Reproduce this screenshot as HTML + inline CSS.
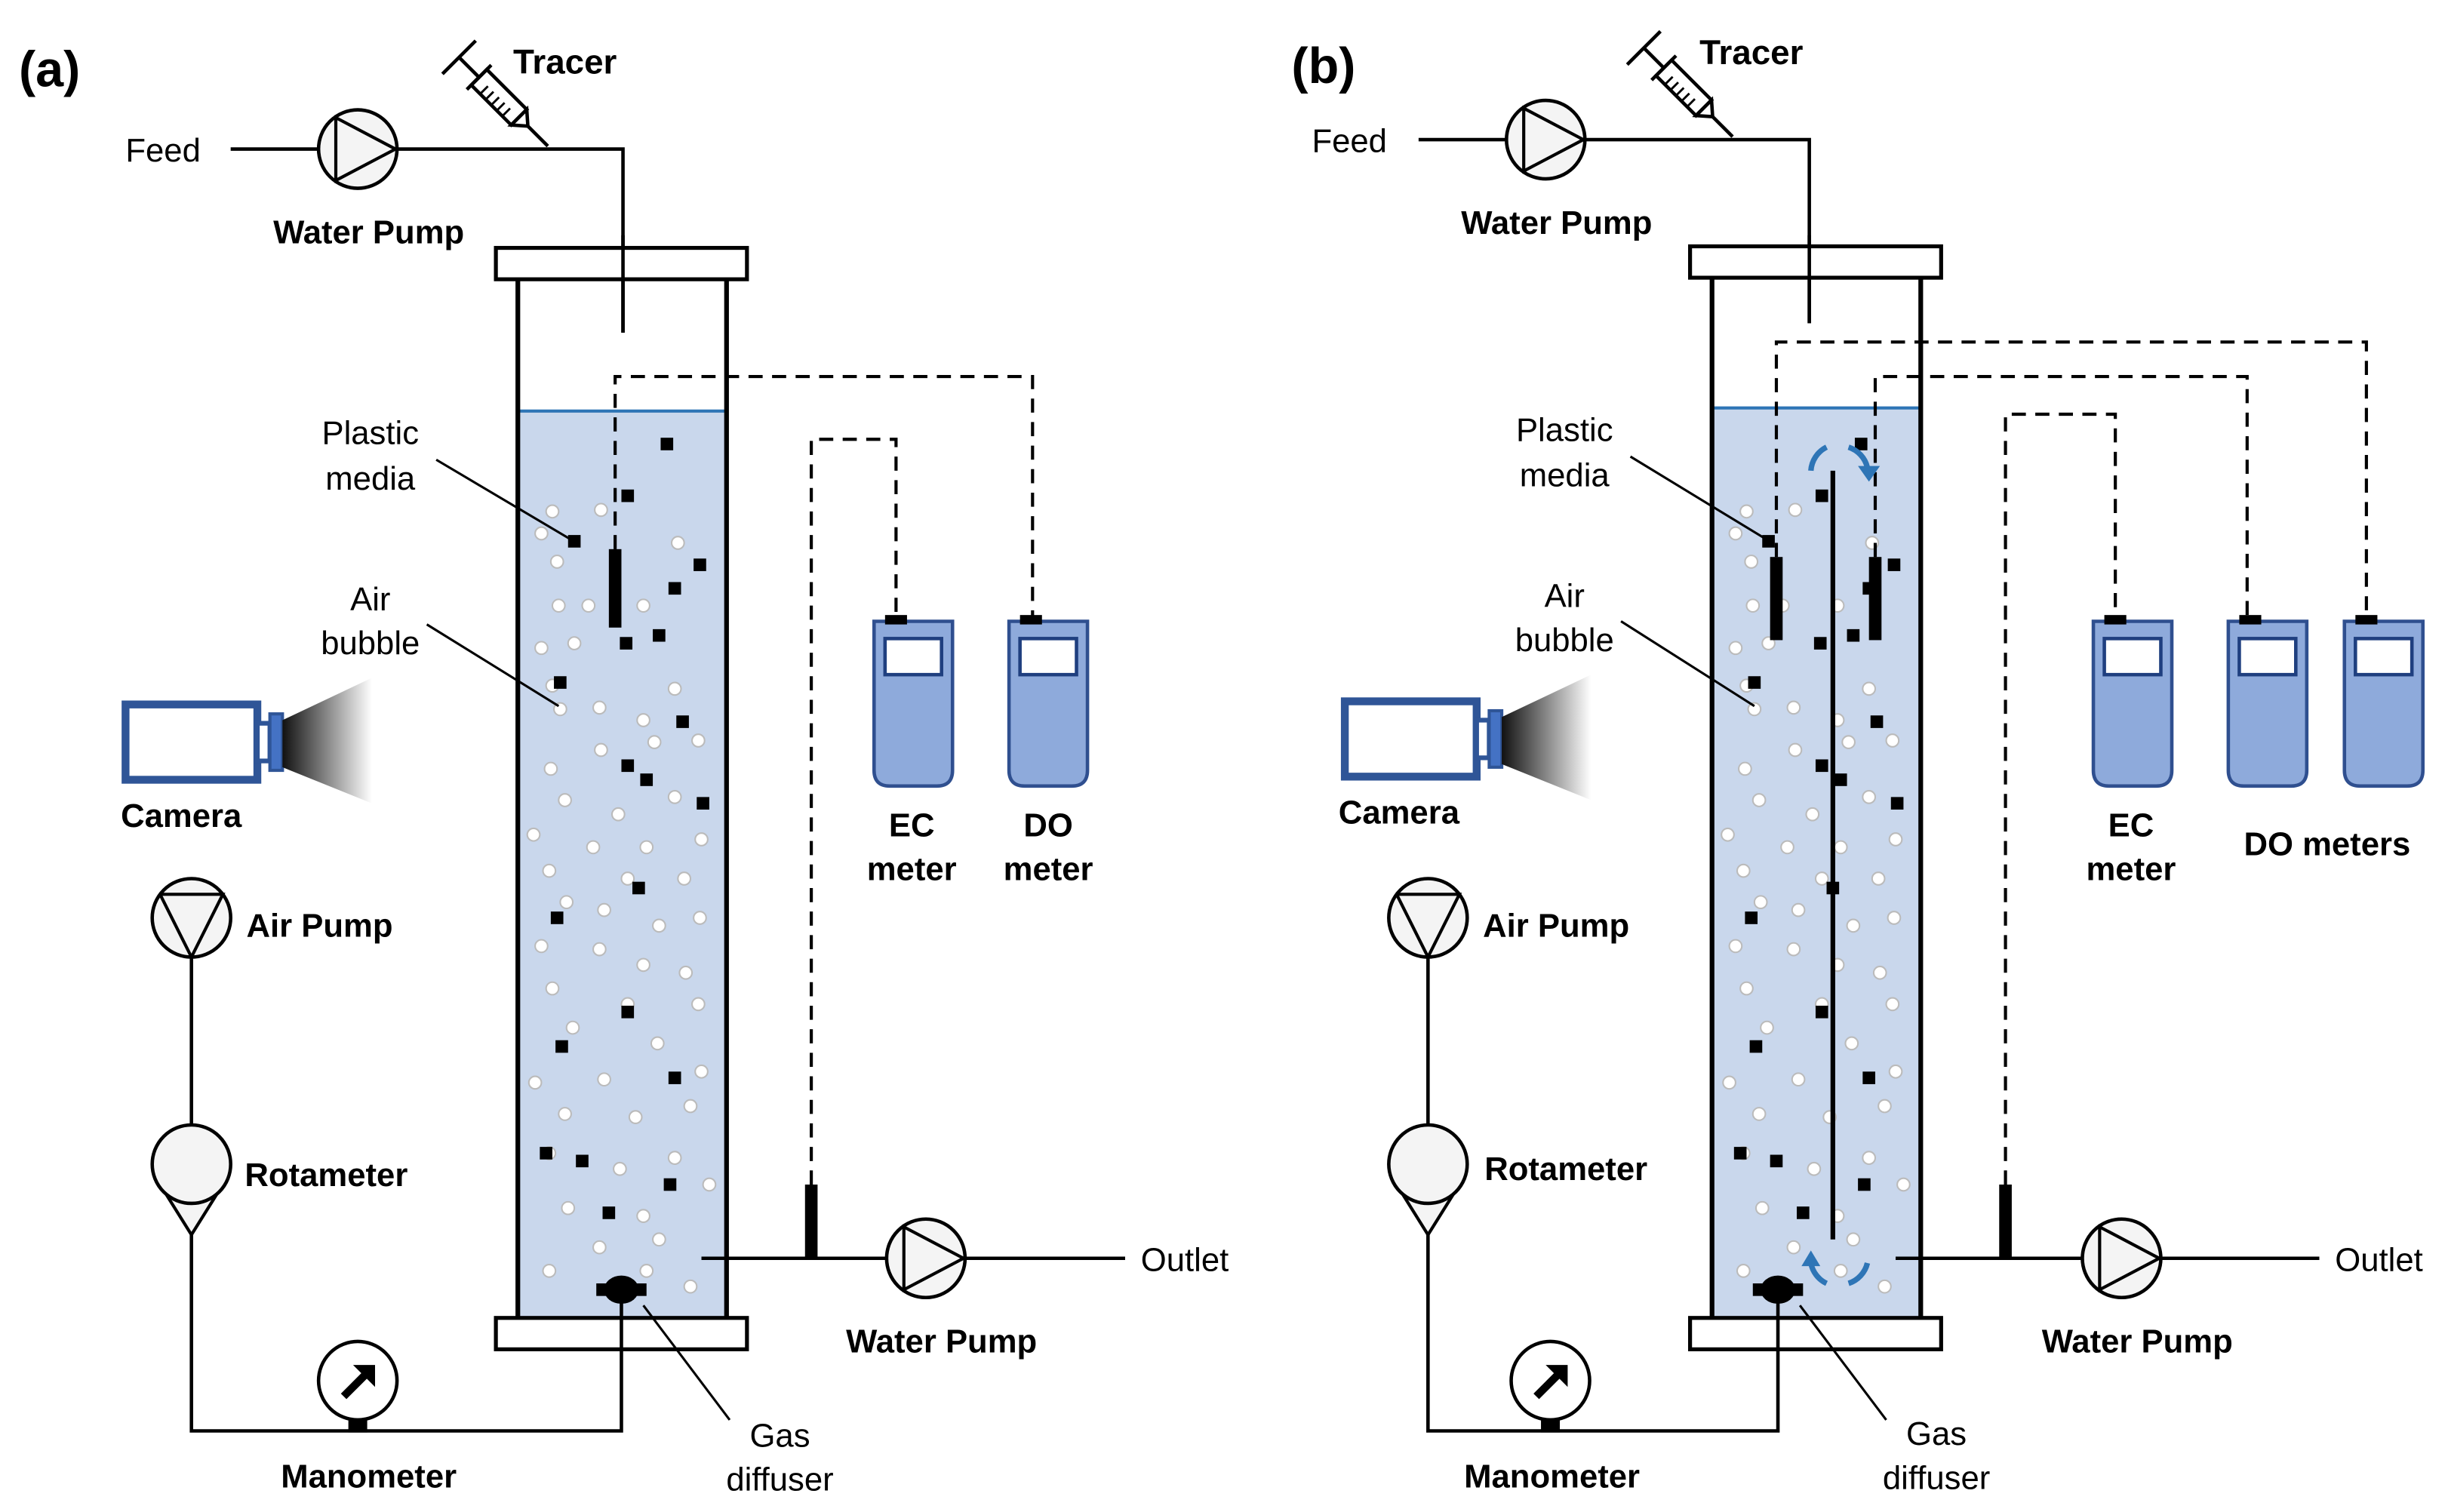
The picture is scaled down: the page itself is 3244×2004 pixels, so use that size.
<!DOCTYPE html>
<html><head><meta charset="utf-8"><style>
html,body{margin:0;padding:0;background:#fff}
svg{display:block}
text{font-family:"Liberation Sans",Arial,sans-serif}
.b{font-weight:bold}
</style></head><body>
<svg width="3244" height="2004" viewBox="0 0 1560 963.7" preserveAspectRatio="none" xmlns="http://www.w3.org/2000/svg">
<defs>
<linearGradient id="cone" x1="0" y1="0" x2="1" y2="0"><stop offset="0" stop-color="#111"/><stop offset="1" stop-color="#fff"/></linearGradient>
<g id="bub">
<g fill="#fff" stroke="#bbb" stroke-width="1">
<circle cx="352" cy="326" r="4"/><circle cx="383" cy="325" r="4"/><circle cx="345" cy="340" r="4"/><circle cx="355" cy="358" r="4"/><circle cx="432" cy="346" r="4"/><circle cx="356" cy="386" r="4"/><circle cx="375" cy="386" r="4"/><circle cx="410" cy="386" r="4"/><circle cx="345" cy="413" r="4"/><circle cx="366" cy="410" r="4"/><circle cx="352" cy="437" r="4"/><circle cx="382" cy="451" r="4"/><circle cx="430" cy="439" r="4"/><circle cx="410" cy="459" r="4"/><circle cx="357" cy="452" r="4"/><circle cx="383" cy="478" r="4"/><circle cx="351" cy="490" r="4"/><circle cx="417" cy="473" r="4"/><circle cx="445" cy="472" r="4"/><circle cx="360" cy="510" r="4"/><circle cx="394" cy="519" r="4"/><circle cx="430" cy="508" r="4"/><circle cx="340" cy="532" r="4"/><circle cx="378" cy="540" r="4"/><circle cx="412" cy="540" r="4"/><circle cx="447" cy="535" r="4"/><circle cx="350" cy="555" r="4"/><circle cx="400" cy="560" r="4"/><circle cx="436" cy="560" r="4"/><circle cx="361" cy="575" r="4"/><circle cx="385" cy="580" r="4"/><circle cx="420" cy="590" r="4"/><circle cx="446" cy="585" r="4"/><circle cx="345" cy="603" r="4"/><circle cx="382" cy="605" r="4"/><circle cx="410" cy="615" r="4"/><circle cx="437" cy="620" r="4"/><circle cx="352" cy="630" r="4"/><circle cx="400" cy="640" r="4"/><circle cx="445" cy="640" r="4"/><circle cx="365" cy="655" r="4"/><circle cx="419" cy="665" r="4"/><circle cx="341" cy="690" r="4"/><circle cx="385" cy="688" r="4"/><circle cx="447" cy="683" r="4"/><circle cx="360" cy="710" r="4"/><circle cx="405" cy="712" r="4"/><circle cx="440" cy="705" r="4"/><circle cx="350" cy="735" r="4"/><circle cx="395" cy="745" r="4"/><circle cx="430" cy="738" r="4"/><circle cx="362" cy="770" r="4"/><circle cx="410" cy="775" r="4"/><circle cx="452" cy="755" r="4"/><circle cx="382" cy="795" r="4"/><circle cx="420" cy="790" r="4"/><circle cx="350" cy="810" r="4"/><circle cx="412" cy="810" r="4"/><circle cx="440" cy="820" r="4"/>
</g>
<g fill="#000">
<rect x="421" y="279" width="8" height="8"/><rect x="396" y="312" width="8" height="8"/><rect x="362" y="341" width="8" height="8"/><rect x="442" y="356" width="8" height="8"/><rect x="426" y="371" width="8" height="8"/><rect x="395" y="406" width="8" height="8"/><rect x="416" y="401" width="8" height="8"/><rect x="353" y="431" width="8" height="8"/><rect x="431" y="456" width="8" height="8"/><rect x="396" y="484" width="8" height="8"/><rect x="444" y="508" width="8" height="8"/><rect x="408" y="493" width="8" height="8"/><rect x="351" y="581" width="8" height="8"/><rect x="403" y="562" width="8" height="8"/><rect x="396" y="641" width="8" height="8"/><rect x="354" y="663" width="8" height="8"/><rect x="426" y="683" width="8" height="8"/><rect x="344" y="731" width="8" height="8"/><rect x="367" y="736" width="8" height="8"/><rect x="423" y="751" width="8" height="8"/><rect x="384" y="769" width="8" height="8"/>
</g>
</g>
<g id="syr" stroke="#000" stroke-width="2.2" fill="#fff">
<line x1="24" y1="0" x2="44" y2="0"/>
<rect x="-18" y="-7" width="36" height="14"/>
<polygon points="18,-7 26,0 18,7"/>
<line x1="-36" y1="0" x2="-18" y2="0"/>
<line x1="-36" y1="-15" x2="-36" y2="15"/>
<line x1="-18" y1="-11" x2="-18" y2="11"/>
<g stroke-width="1.4"><line x1="-10" y1="0" x2="-10" y2="6"/><line x1="-5" y1="0" x2="-5" y2="6"/><line x1="0" y1="0" x2="0" y2="6"/><line x1="5" y1="0" x2="5" y2="6"/><line x1="10" y1="0" x2="10" y2="6"/></g>
</g>
<g id="pumpR"><circle r="25" fill="#f4f4f4" stroke="#000" stroke-width="2.2"/><polygon points="-14,-20 24,0 -14,20" fill="none" stroke="#000" stroke-width="2"/></g>
<g id="meter">
<path d="M0,0 H50 V95 Q50,105 40,105 H10 Q0,105 0,95 Z" fill="#8eaadb" stroke="#2f4f8f" stroke-width="2.2"/>
<rect x="7" y="11" width="36" height="23" fill="#fff" stroke="#1f3f7f" stroke-width="2.2"/>
<rect x="7" y="-4" width="14" height="6" fill="#000"/>
</g>
<g id="camera">
<rect x="0" y="0" width="84" height="48" fill="#fff" stroke="#2f5597" stroke-width="5"/>
<rect x="84" y="12" width="8" height="24" fill="#fff" stroke="#2f5597" stroke-width="3"/>
<rect x="92" y="6" width="8" height="36" fill="#4472c4" stroke="#2f5597" stroke-width="2"/>
<polygon points="100,10 157,-17 157,63 100,40" fill="url(#cone)"/>
</g>
<g id="airside">
<circle cx="0" cy="0" r="25" fill="#f4f4f4" stroke="#000" stroke-width="2.2"/>
<polyline points="-20,-15 20,-15 0,25 -20,-15" fill="none" stroke="#000" stroke-width="2"/>
<line x1="0" y1="25" x2="0" y2="132" stroke="#000" stroke-width="2.2"/>
<polygon points="-20,170 20,170 0,202" fill="#f4f4f4" stroke="#000" stroke-width="2"/>
<circle cx="0" cy="157" r="25" fill="#f4f4f4" stroke="#000" stroke-width="2.2"/>
</g>
<g id="mano">
<circle r="25" fill="#fff" stroke="#000" stroke-width="2.2"/>
<path d="M-9,10 L6,-5" stroke="#000" stroke-width="5"/>
<polygon points="-3,-10 11,-10 11,4" fill="#000"/>
<rect x="-6" y="24" width="12" height="9" fill="#000"/>
</g>
</defs>

<!-- ============ PANEL A ============ -->
<text x="12" y="55" font-size="32" class="b">(a)</text>
<use href="#syr" transform="translate(318,62) rotate(45)"/>
<text x="327" y="47" font-size="22" class="b">Tracer</text>
<text x="80" y="103" font-size="21">Feed</text>
<line x1="147" y1="95" x2="203" y2="95" stroke="#000" stroke-width="2.2"/>
<use href="#pumpR" x="228" y="95"/>
<polyline points="253,95 397,95 397,212" fill="none" stroke="#000" stroke-width="2.2"/>
<text x="235" y="155" font-size="21" class="b" text-anchor="middle">Water Pump</text>
<!-- column -->
<rect x="331" y="262" width="131" height="578" fill="#c9d7ec"/>
<line x1="331" y1="262" x2="462" y2="262" stroke="#2e75b6" stroke-width="2"/>
<use href="#bub"/>
<line x1="330" y1="178" x2="330" y2="840" stroke="#000" stroke-width="3"/>
<line x1="463" y1="178" x2="463" y2="840" stroke="#000" stroke-width="3"/>
<rect x="316" y="158" width="160" height="20" fill="#fff" stroke="#000" stroke-width="2.5"/>
<line x1="397" y1="150" x2="397" y2="212" stroke="#000" stroke-width="2.2"/>
<rect x="316" y="840" width="160" height="20" fill="#fff" stroke="#000" stroke-width="2.5"/>
<!-- probes -->
<g fill="none" stroke="#000" stroke-width="2" stroke-dasharray="9,6">
<polyline points="392,350 392,240 658,240 658,393"/>
<polyline points="517,755 517,280 571,280 571,393"/>
</g>
<rect x="388" y="350" width="8" height="50" fill="#000"/>
<rect x="513" y="755" width="8" height="47" fill="#000"/>
<use href="#meter" x="557" y="396"/>
<use href="#meter" x="643" y="396"/>
<text x="581" y="533" font-size="21" class="b" text-anchor="middle">EC</text>
<text x="581" y="561" font-size="21" class="b" text-anchor="middle">meter</text>
<text x="668" y="533" font-size="21" class="b" text-anchor="middle">DO</text>
<text x="668" y="561" font-size="21" class="b" text-anchor="middle">meter</text>
<line x1="447" y1="802" x2="565" y2="802" stroke="#000" stroke-width="2.2"/>
<use href="#pumpR" x="590" y="802"/>
<line x1="615" y1="802" x2="717" y2="802" stroke="#000" stroke-width="2.2"/>
<text x="727" y="810" font-size="21">Outlet</text>
<text x="600" y="862" font-size="21" class="b" text-anchor="middle">Water Pump</text>
<!-- labels -->
<text x="236" y="283" font-size="21" text-anchor="middle">Plastic</text>
<text x="236" y="312" font-size="21" text-anchor="middle">media</text>
<line x1="278" y1="293" x2="364" y2="344" stroke="#000" stroke-width="1.5"/>
<text x="236" y="389" font-size="21" text-anchor="middle">Air</text>
<text x="236" y="417" font-size="21" text-anchor="middle">bubble</text>
<line x1="272" y1="398" x2="356" y2="450" stroke="#000" stroke-width="1.5"/>
<use href="#camera" x="80" y="449"/>
<text x="77" y="527" font-size="21" class="b">Camera</text>
<use href="#airside" x="122" y="585"/>
<text x="157" y="597" font-size="21" class="b">Air Pump</text>
<text x="156" y="756" font-size="21" class="b">Rotameter</text>
<polyline points="122,787 122,912 396,912 396,822" fill="none" stroke="#000" stroke-width="2.2"/>
<use href="#mano" x="228" y="880"/>
<text x="235" y="948" font-size="21" class="b" text-anchor="middle">Manometer</text>
<ellipse cx="396" cy="822" rx="11" ry="9" fill="#000"/><rect x="380" y="818" width="32" height="8" fill="#000"/>
<line x1="410" y1="832" x2="465" y2="905" stroke="#000" stroke-width="1.5"/>
<text x="497" y="922" font-size="21" text-anchor="middle">Gas</text>
<text x="497" y="950" font-size="21" text-anchor="middle">diffuser</text>

<!-- ============ PANEL B ============ -->
<text x="823" y="53" font-size="32" class="b">(b)</text>
<use href="#syr" transform="translate(1073,56) rotate(45)"/>
<text x="1083" y="41" font-size="22" class="b">Tracer</text>
<text x="836" y="97" font-size="21">Feed</text>
<line x1="904" y1="89" x2="960" y2="89" stroke="#000" stroke-width="2.2"/>
<use href="#pumpR" x="985" y="89"/>
<polyline points="1010,89 1153,89 1153,206" fill="none" stroke="#000" stroke-width="2.2"/>
<text x="992" y="149" font-size="21" class="b" text-anchor="middle">Water Pump</text>
<rect x="1092" y="260" width="131" height="580" fill="#c9d7ec"/>
<line x1="1092" y1="260" x2="1223" y2="260" stroke="#2e75b6" stroke-width="2"/>
<use href="#bub" x="761" y="0"/>
<line x1="1091" y1="177" x2="1091" y2="840" stroke="#000" stroke-width="3"/>
<line x1="1224" y1="177" x2="1224" y2="840" stroke="#000" stroke-width="3"/>
<rect x="1077" y="157" width="160" height="20" fill="#fff" stroke="#000" stroke-width="2.5"/>
<line x1="1153" y1="150" x2="1153" y2="206" stroke="#000" stroke-width="2.2"/>
<rect x="1077" y="840" width="160" height="20" fill="#fff" stroke="#000" stroke-width="2.5"/>
<line x1="1168" y1="300" x2="1168" y2="790" stroke="#000" stroke-width="3"/>
<g fill="none" stroke="#000" stroke-width="2" stroke-dasharray="9,6">
<polyline points="1132,355 1132,218 1508,218 1508,393"/>
<polyline points="1195,355 1195,240 1432,240 1432,393"/>
<polyline points="1278,755 1278,264 1348,264 1348,393"/>
</g>
<rect x="1128" y="355" width="8" height="53" fill="#000"/>
<rect x="1191" y="355" width="8" height="53" fill="#000"/>
<rect x="1274" y="755" width="8" height="47" fill="#000"/>
<!-- circulation arrows -->
<g fill="none" stroke="#2e75b6" stroke-width="3.5">
<path d="M1154,300 A18,18 0 0 1 1164,285"/>
<path d="M1178,285 A18,18 0 0 1 1190,298"/>
<path d="M1154,805 A18,18 0 0 0 1164,818"/>
<path d="M1178,818 A18,18 0 0 0 1190,805"/>
</g>
<polygon points="1184,297 1198,297 1191,307" fill="#2e75b6"/>
<polygon points="1148,807 1160,807 1154,797" fill="#2e75b6"/>
<use href="#meter" x="1334" y="396"/>
<use href="#meter" x="1420" y="396"/>
<use href="#meter" x="1494" y="396"/>
<text x="1358" y="533" font-size="21" class="b" text-anchor="middle">EC</text>
<text x="1358" y="561" font-size="21" class="b" text-anchor="middle">meter</text>
<text x="1483" y="545" font-size="21" class="b" text-anchor="middle">DO meters</text>
<line x1="1208" y1="802" x2="1327" y2="802" stroke="#000" stroke-width="2.2"/>
<use href="#pumpR" x="1352" y="802"/>
<line x1="1377" y1="802" x2="1478" y2="802" stroke="#000" stroke-width="2.2"/>
<text x="1488" y="810" font-size="21">Outlet</text>
<text x="1362" y="862" font-size="21" class="b" text-anchor="middle">Water Pump</text>
<text x="997" y="281" font-size="21" text-anchor="middle">Plastic</text>
<text x="997" y="310" font-size="21" text-anchor="middle">media</text>
<line x1="1039" y1="291" x2="1126" y2="344" stroke="#000" stroke-width="1.5"/>
<text x="997" y="387" font-size="21" text-anchor="middle">Air</text>
<text x="997" y="415" font-size="21" text-anchor="middle">bubble</text>
<line x1="1033" y1="396" x2="1118" y2="450" stroke="#000" stroke-width="1.5"/>
<use href="#camera" x="857" y="447"/>
<text x="853" y="525" font-size="21" class="b">Camera</text>
<use href="#airside" x="910" y="585"/>
<text x="945" y="597" font-size="21" class="b">Air Pump</text>
<text x="946" y="752" font-size="21" class="b">Rotameter</text>
<polyline points="910,787 910,912 1133,912 1133,822" fill="none" stroke="#000" stroke-width="2.2"/>
<use href="#mano" x="988" y="880"/>
<text x="989" y="948" font-size="21" class="b" text-anchor="middle">Manometer</text>
<ellipse cx="1133" cy="822" rx="11" ry="9" fill="#000"/><rect x="1117" y="818" width="32" height="8" fill="#000"/>
<line x1="1147" y1="832" x2="1202" y2="905" stroke="#000" stroke-width="1.5"/>
<text x="1234" y="921" font-size="21" text-anchor="middle">Gas</text>
<text x="1234" y="949" font-size="21" text-anchor="middle">diffuser</text>
</svg>
</body></html>
